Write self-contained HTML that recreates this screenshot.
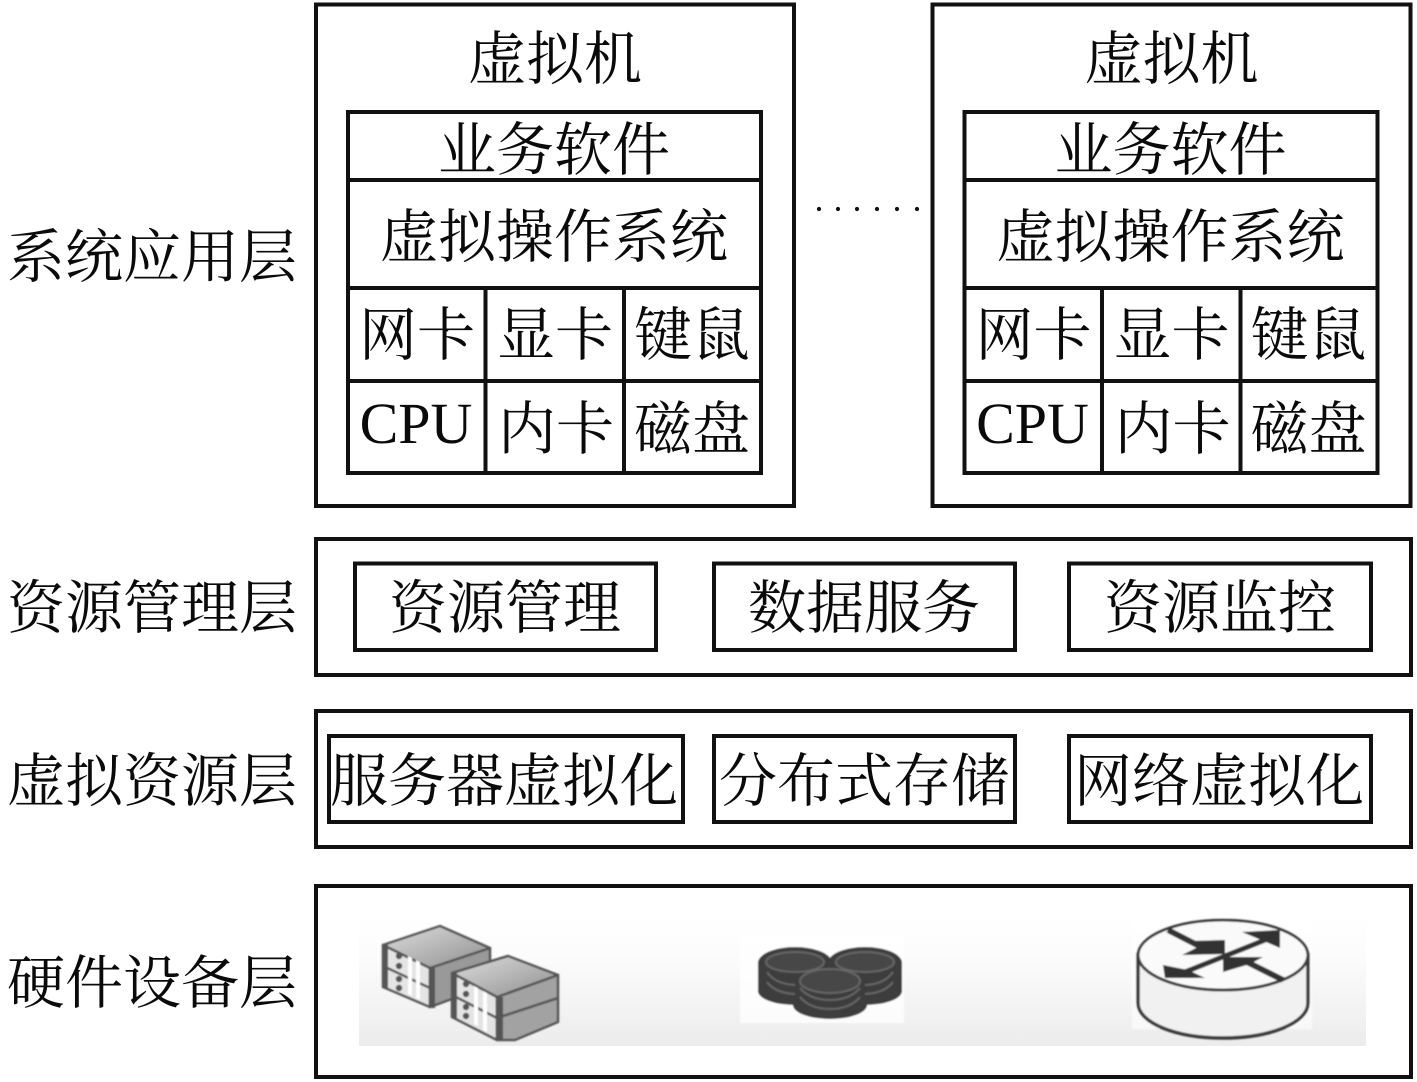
<!DOCTYPE html>
<html><head><meta charset="utf-8">
<style>
html,body{margin:0;padding:0;background:#fff}
svg{display:block}
text{font-family:"Liberation Serif","Noto Serif CJK SC",serif;font-size:58px;fill:#0a0a0a;text-anchor:middle}
.b{fill:none;stroke:#111;stroke-width:4}
</style></head><body>
<svg width="1417" height="1082" viewBox="0 0 1417 1082" xmlns="http://www.w3.org/2000/svg">
<defs>
<filter id="soft" x="-5%" y="-5%" width="110%" height="110%"><feGaussianBlur stdDeviation="0.9"/></filter>
<linearGradient id="bg" x1="0" y1="0" x2="0" y2="1"><stop offset="0" stop-color="#fff"/><stop offset="0.35" stop-color="#fbfbfb"/><stop offset="1" stop-color="#ececec"/></linearGradient>
<linearGradient id="top" x1="0" y1="0" x2="1" y2="1"><stop offset="0" stop-color="#dedede"/><stop offset="1" stop-color="#8e8e8e"/></linearGradient>
<g id="vm">
<rect class="b" x="316" y="4.5" width="478" height="501.500"/>
<rect class="b" x="348" y="112" width="413" height="361"/>
<path class="b" d="M348 180H761M348 288H761M348 381H761M485.500 288V473M624 288V473"/>
<text x="555" y="79">虚拟机</text>
<text x="554" y="170">业务软件</text>
<text x="554" y="257">虚拟操作系统</text>
<text x="417" y="355">网卡</text>
<text x="555" y="355">显卡</text>
<text x="692" y="355">键鼠</text>
<text x="416" y="443">CPU</text>
<text x="556" y="449">内卡</text>
<text x="692" y="449">磁盘</text>
</g>
</defs>
<rect width="1417" height="1082" fill="#fff"/>
<use href="#vm"/>
<use href="#vm" x="616.500"/>
<g fill="#111"><circle cx="819" cy="209" r="2.100"/><circle cx="838" cy="209" r="2.100"/><circle cx="857" cy="209" r="2.100"/><circle cx="877" cy="209" r="2.100"/><circle cx="897" cy="209" r="2.100"/><circle cx="917" cy="209" r="2.100"/></g>

<text x="152" y="277">系统应用层</text>
<text x="152" y="628">资源管理层</text>
<text x="152" y="801">虚拟资源层</text>
<text x="152" y="1003">硬件设备层</text>

<rect class="b" x="316" y="539" width="1095" height="136"/>
<rect class="b" x="355" y="563.500" width="301" height="86.500"/>
<rect class="b" x="714" y="563.500" width="301" height="86.500"/>
<rect class="b" x="1069" y="563.500" width="302" height="86.500"/>
<text x="505" y="628">资源管理</text>
<text x="864" y="628">数据服务</text>
<text x="1220" y="628">资源监控</text>

<rect class="b" x="316" y="711" width="1095" height="136"/>
<rect class="b" x="329" y="736" width="354" height="86"/>
<rect class="b" x="714" y="736" width="301" height="86"/>
<rect class="b" x="1069" y="736" width="302" height="86"/>
<text x="504" y="801">服务器虚拟化</text>
<text x="864" y="801">分布式存储</text>
<text x="1219" y="801">网络虚拟化</text>

<rect class="b" x="316" y="886" width="1095" height="191"/>
<rect x="359" y="917" width="1007" height="129" fill="url(#bg)"/>

<g filter="url(#soft)">
<!-- servers -->
<g stroke="#555" stroke-width="2.500" stroke-linejoin="round">
<path d="M383 945L430 968V1007L383 987Z" fill="#e4e4e4"/>
<path d="M430 968L490 948V985L430 1007Z" fill="#999"/>
<path d="M383 945L440 926L490 948L430 968Z" fill="url(#top)"/>
<path d="M383 966L430 988" fill="none"/>
<path d="M452 973L497 997V1040L452 1017Z" fill="#e4e4e4"/>
<path d="M497 997L558 975V1022L515 1040H497Z" fill="#a2a2a2"/>
<path d="M452 973L508 956L558 975L497 997Z" fill="url(#top)"/>
<path d="M452 995L497 1018L558 998" fill="none"/>
</g>
<g fill="#fff">
<path d="M408 956L412 958V996L408 994ZM416 960L420 962V1000L416 998ZM474 986L478 988V1026L474 1024ZM483 991L487 993V1032L483 1030Z"/>
</g>
<g fill="#555">
<rect x="382" y="944" width="6" height="44"/><rect x="429" y="968" width="6" height="40"/>
<rect x="451" y="972" width="6" height="46"/><rect x="497" y="997" width="6" height="44"/>
<circle cx="399" cy="956" r="3.200"/><circle cx="399" cy="966" r="3.200"/><circle cx="399" cy="979" r="3.200"/><circle cx="399" cy="988" r="3.200"/>
<circle cx="466" cy="984" r="3.200"/><circle cx="466" cy="994" r="3.200"/><circle cx="466" cy="1007" r="3.200"/><circle cx="466" cy="1016" r="3.200"/>
</g>

<!-- disks -->
<rect x="740" y="935" width="164" height="88" fill="#fff" opacity=".8"/>
<g fill="#3c3c3c">
<rect x="758" y="963" width="74" height="28"/><ellipse cx="795" cy="963" rx="37" ry="16"/><ellipse cx="795" cy="991" rx="37" ry="14"/>
<rect x="828" y="963" width="74" height="28"/><ellipse cx="865" cy="963" rx="37" ry="16"/><ellipse cx="865" cy="991" rx="37" ry="14"/>
<rect x="793" y="981" width="74" height="25"/><ellipse cx="830" cy="1005" rx="37" ry="14"/>
</g>
<g fill="#474747" stroke="#666" stroke-width="2">
<ellipse cx="795" cy="962" rx="29" ry="10"/><ellipse cx="865" cy="962" rx="29" ry="10"/><ellipse cx="830" cy="981" rx="30" ry="12"/>
</g>
<g fill="none" stroke="#666" stroke-width="2">
<path d="M767 972Q775 984 795 985M767 982Q775 993 795 994M893 972Q885 984 865 985M893 982Q885 993 865 994"/>
<path d="M800 988Q810 1000 830 1000Q850 1000 860 988M800 997Q810 1009 830 1009Q850 1009 860 997"/>
</g>

<!-- router -->
<rect x="1132" y="917" width="180" height="112" fill="#fff" opacity=".6"/>
<path d="M1138 955V1003C1138 1023 1176 1038 1223 1038S1308 1023 1308 1003V955Z" fill="#f1f1f1" stroke="#3a3a3a" stroke-width="3.500"/>
<ellipse cx="1223" cy="955" rx="85" ry="35" fill="#fafafa" stroke="#3a3a3a" stroke-width="3"/>
<g stroke="#333" fill="none">
<path d="M1168 930L1205 949" stroke-width="6"/>
<path d="M1283 980L1245 961" stroke-width="6"/>
<path d="M1265 940L1185 972" stroke-width="5"/>
</g>
<g fill="#333">
<path d="M1225 940V954L1182 955L1200 946L1190 941Z"/>
<path d="M1223 957H1263L1250 964L1223 972Z"/>
<path d="M1242 932L1280 930V948L1266 942Z"/>
<path d="M1163 965L1165 978H1205L1188 970Z"/>
</g>
</g>
</svg>
</body></html>
